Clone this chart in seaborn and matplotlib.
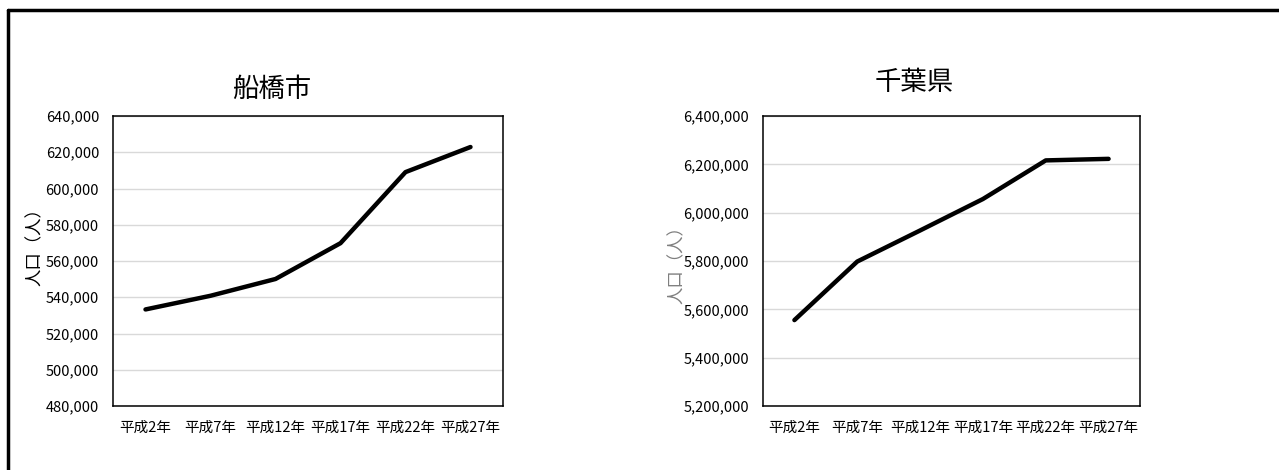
import numpy as np
import pandas as pd
import seaborn as sns
import matplotlib
matplotlib.use('Agg')
import matplotlib.pyplot as plt
from matplotlib.lines import Line2D
from matplotlib.ticker import FuncFormatter, MultipleLocator

# census population, Heisei 2 - 27
years = ['平成2年', '平成7年', '平成12年', '平成17年', '平成22年', '平成27年']
funabashi = [533270, 540817, 550074, 569835, 609040, 622890]
chiba = [5555429, 5797782, 5926285, 6056462, 6216289, 6222666]

sns.set_style('white')
plt.rcParams['font.family'] = ['Noto Sans CJK JP', 'DejaVu Sans']
plt.rcParams['text.color'] = 'black'

fig = plt.figure(figsize=(12.79, 4.70), dpi=100)

# outer frame (top and left edges visible in the reference)
fig.add_artist(Line2D([8 / 1279, 1.0], [1 - 10 / 470, 1 - 10 / 470],
                      color='black', lw=2.5, transform=fig.transFigure))
fig.add_artist(Line2D([8 / 1279, 8 / 1279], [0.0, 1 - 10 / 470],
                      color='black', lw=2.5, transform=fig.transFigure))

fmt = FuncFormatter(lambda v, p: '{:,.0f}'.format(v))


def draw(ax, values, title, ylim, step, title_xy, label_xy, label_color):
    df = pd.DataFrame({'year': years, 'pop': values})
    df['pos'] = np.arange(len(years))
    sns.lineplot(data=df, x='pos', y='pop', ax=ax, color='black', lw=3.2)
    ax.set_xlim(-0.5, len(years) - 0.5)
    ax.set_ylim(*ylim)
    ax.set_xticks(df['pos'])
    ax.set_xticklabels(years)
    ax.yaxis.set_major_locator(MultipleLocator(step))
    ax.yaxis.set_major_formatter(fmt)
    ax.grid(axis='y', color='#d9d9d9', lw=1)
    ax.set_axisbelow(True)
    for s in ax.spines.values():
        s.set_color('black')
        s.set_linewidth(1.1)
    ax.tick_params(axis='both', length=0, colors='black')
    ax.tick_params(axis='y', pad=10, labelsize=10.5)
    ax.tick_params(axis='x', pad=11, labelsize=10.5)
    ax.set_xlabel('')
    ax.set_ylabel('人口（人）', fontsize=12.5, color=label_color)
    ax.yaxis.set_label_coords(*label_xy)
    ax.text(title_xy[0], title_xy[1], title, transform=ax.transAxes,
            ha='center', va='center', fontsize=19, color='black')


ax1 = fig.add_axes([113 / 1279, 64 / 470, 390 / 1279, 290 / 470])
draw(ax1, funabashi, '船橋市', (480000, 640000), 20000,
     (0.408, 1 + 27 / 290), (-0.178, 0.562), 'black')

ax2 = fig.add_axes([763 / 1279, 64 / 470, 377 / 1279, 290 / 470])
draw(ax2, chiba, '千葉県', (5200000, 6400000), 200000,
     (0.40, 1 + 34 / 290), (-0.206, 0.503), '#7f7f7f')

fig.savefig('out.png', dpi=100)
